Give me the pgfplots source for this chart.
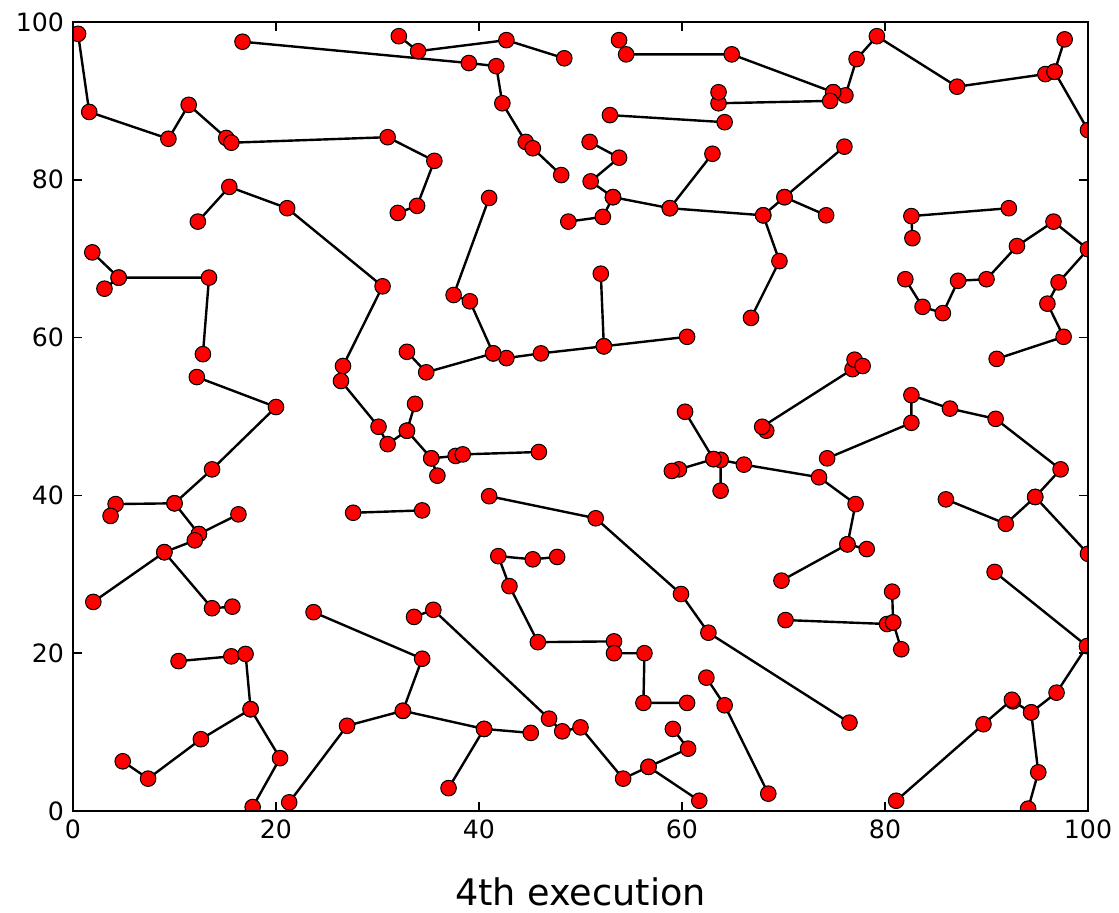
\documentclass[border=0pt]{standalone}
\usepackage{pgfplots}
\pgfplotsset{compat=1.18}
\usepackage{pgfplotstable}
\usepackage{fontspec}
\setmainfont{DejaVu Sans}

% tree edges, one chain per block, chains separated by nan rows
\pgfplotstableread{
x y
0.5 98.5
1.6 88.6
9.4 85.2
11.4 89.5
15.1 85.3
15.6 84.7
31.0 85.4
35.6 82.4
33.9 76.7
32.0 75.8
nan nan
12.3 74.7
15.4 79.1
21.1 76.4
30.5 66.5
26.6 56.4
26.4 54.5
30.1 48.7
31.0 46.5
32.9 48.2
33.7 51.6
nan nan
32.9 48.2
35.3 44.7
37.7 45.0
38.4 45.2
45.9 45.5
nan nan
35.3 44.7
35.9 42.5
nan nan
16.7 97.5
39.0 94.8
41.7 94.4
42.3 89.7
44.6 84.8
45.3 84.0
48.1 80.6
nan nan
32.1 98.2
34.0 96.3
42.7 97.7
48.4 95.4
nan nan
53.8 97.7
54.5 95.9
64.9 95.9
74.9 91.1
76.1 90.7
77.2 95.3
79.2 98.2
87.1 91.8
95.8 93.4
96.7 93.7
100.0 86.3
nan nan
96.7 93.7
97.7 97.8
nan nan
74.9 91.1
74.6 90.0
63.6 89.7
63.6 91.1
nan nan
52.9 88.2
64.2 87.3
nan nan
50.9 84.8
53.8 82.8
51.0 79.8
53.2 77.8
52.2 75.3
48.8 74.7
nan nan
53.2 77.8
58.8 76.4
63.0 83.3
nan nan
58.8 76.4
68.0 75.5
70.1 77.8
76.0 84.2
nan nan
70.1 77.8
74.2 75.5
nan nan
68.0 75.5
69.6 69.7
66.8 62.5
nan nan
92.2 76.4
82.6 75.4
82.7 72.6
nan nan
82.0 67.4
83.7 63.9
85.7 63.1
87.2 67.2
90.0 67.4
93.0 71.6
96.6 74.7
100.0 71.2
97.1 67.0
96.0 64.3
97.6 60.1
91.0 57.3
nan nan
1.9 70.8
4.5 67.6
13.4 67.6
12.8 57.9
nan nan
3.1 66.2
4.5 67.6
nan nan
12.2 55.0
20.0 51.2
13.7 43.3
10.0 39.0
4.2 38.9
3.7 37.4
nan nan
10.0 39.0
12.4 35.1
16.3 37.6
nan nan
12.4 35.1
12.0 34.3
9.0 32.8
2.0 26.5
nan nan
9.0 32.8
13.7 25.7
15.7 25.9
nan nan
41.0 77.7
37.5 65.4
39.1 64.6
41.4 58.0
42.7 57.4
46.1 58.0
52.3 58.9
60.5 60.1
nan nan
52.3 58.9
52.0 68.1
nan nan
41.4 58.0
34.8 55.6
32.9 58.2
nan nan
27.6 37.8
34.4 38.1
nan nan
41.0 39.9
51.5 37.1
59.9 27.5
62.6 22.6
76.5 11.2
nan nan
47.7 32.2
45.3 31.9
41.9 32.3
43.0 28.5
45.8 21.4
53.3 21.5
53.3 20.0
56.3 20.0
56.2 13.7
60.5 13.7
nan nan
60.3 50.6
63.1 44.6
63.8 44.5
66.1 43.9
73.5 42.3
77.1 38.9
76.3 33.8
69.8 29.2
nan nan
76.3 33.8
78.2 33.2
nan nan
63.8 44.5
63.8 40.6
nan nan
63.1 44.6
59.7 43.3
59.0 43.1
nan nan
68.3 48.2
67.9 48.7
76.8 56.0
77.0 57.2
77.8 56.4
nan nan
74.3 44.7
82.6 49.2
82.6 52.7
86.4 51.0
90.9 49.7
97.3 43.3
94.8 39.8
91.9 36.4
86.0 39.5
nan nan
94.8 39.8
100.0 32.6
nan nan
90.8 30.3
99.9 20.9
96.9 15.0
94.4 12.5
92.6 13.9
92.5 14.1
89.7 11.0
81.1 1.3
nan nan
94.4 12.5
95.1 4.9
94.1 0.3
nan nan
70.2 24.2
80.2 23.7
80.8 23.9
80.7 27.8
nan nan
80.8 23.9
81.6 20.5
nan nan
62.4 16.9
64.2 13.4
68.5 2.2
nan nan
33.6 24.6
35.5 25.5
46.9 11.7
48.2 10.1
50.0 10.6
54.2 4.1
56.7 5.6
60.6 7.9
59.1 10.4
nan nan
56.7 5.6
61.7 1.3
nan nan
23.7 25.2
34.4 19.3
32.5 12.7
27.0 10.8
21.3 1.1
nan nan
32.5 12.7
40.5 10.4
45.1 9.9
nan nan
40.5 10.4
37.0 2.9
nan nan
10.4 19.0
15.6 19.6
17.0 19.9
17.5 12.9
12.6 9.1
7.4 4.1
4.9 6.3
nan nan
17.5 12.9
20.4 6.7
17.7 0.5
}\edges

\begin{document}
\begin{tikzpicture}
  \begin{axis}[
    scale only axis, width=507.5pt, height=394.5pt,
    xmin=0, xmax=100, ymin=0, ymax=100,
    xtick={0,20,...,100}, ytick={0,20,...,100},
    tick align=inside, major tick length=4.5pt,
    tick style={black, line width=0.8pt},
    axis line style={line width=1pt},
    axis on top,
    clip marker paths=true,
    unbounded coords=jump,
    /pgf/number format/assume math mode=true,
    tick label style={font=\fontsize{12.6}{15}\selectfont},
    xticklabel style={yshift=-1pt},
    yticklabel style={xshift=-1pt},
    xlabel={4th execution},
    xlabel style={font=\fontsize{18.3}{22}\selectfont,
      at={(axis description cs:0.5,0)}, anchor=base, yshift=-47pt},
  ]
    \addplot[black, line width=1.2pt, no markers] table {\edges};
    \addplot[only marks, mark=*, mark size=3.9pt,
      mark options={fill=red, draw=black, line width=0.5pt}] table {\edges};
  \end{axis}
  \path ([shift={(-36.5pt,-49pt)}]current axis.south west)
    rectangle ([shift={(15.5pt,11pt)}]current axis.north east);
\end{tikzpicture}
\end{document}
